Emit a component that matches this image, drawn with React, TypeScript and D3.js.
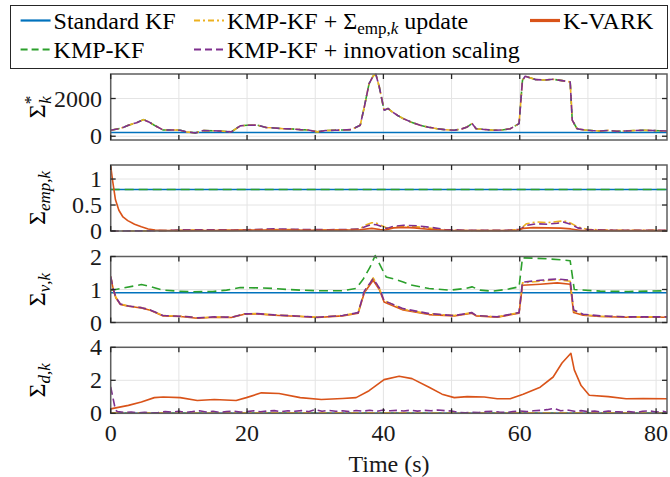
import * as d3 from "d3";

// time axis
const tMax = 81.6;
const xTicks = [0, 10, 20, 30, 40, 50, 60, 70, 80];

// panel 1: Sigma*_k (KMP-KF variants share the curve)
const starStd: [number, number][] = [[0, 200], [tMax, 200]];
const starShared: [number, number][] = [
  [0, 320], [1.5, 420], [2.6, 580], [3.8, 720], [4.8, 880], [5.6, 760], [6.4, 580], [7.7, 330],
  [9, 330], [10.2, 320], [11.1, 230], [12.4, 175], [13.6, 300], [15, 290], [16.5, 265], [17.7, 230],
  [19, 550], [20, 580], [21.5, 590], [22.8, 460], [24, 440], [25.3, 400], [26.5, 390], [27.8, 350],
  [29, 330], [30.3, 230], [31.5, 300], [32.8, 320], [34, 330], [35.3, 350], [36.6, 580], [37.2, 1550],
  [37.9, 2790], [38.5, 3200], [38.9, 3280], [39.4, 2610], [40.1, 1380], [40.7, 1465], [41.3, 1290],
  [42.1, 1100], [42.9, 935], [44, 760], [45.4, 580], [46.6, 480], [47.9, 400], [49, 350], [50.4, 318],
  [51.5, 390], [52.3, 494], [53, 670], [53.6, 400], [54.8, 360], [56.1, 318], [57.4, 330], [58.6, 400],
  [59.9, 670], [60.4, 2965], [60.8, 3180], [61.5, 3100], [62.4, 3000], [63.6, 2980], [64.9, 3020],
  [66.2, 2950], [67.4, 2880], [67.7, 850], [68.4, 400], [69.5, 330], [70.5, 300], [71.8, 280],
  [73, 310], [74.2, 260], [75.5, 280], [76.8, 300], [78.1, 318], [79.5, 300], [80.5, 290], [81.6, 280],
];

// panel 2: Sigma_emp,k
const empStd: [number, number][] = [[0, 0.8], [tMax, 0.8]];
const empKvark: [number, number][] = [
  [0, 1.25], [0.3, 0.95], [0.7, 0.6], [1.2, 0.4], [1.8, 0.27], [2.5, 0.2], [3.5, 0.13], [4.5, 0.08],
  [5.5, 0.04], [6.5, 0.02], [8, 0.01], [10, 0.008], [14, 0.01], [18, 0.012], [22, 0.02], [26, 0.018],
  [30, 0.015], [34, 0.02], [36.5, 0.025], [38.3, 0.05], [39.5, 0.03], [40.3, 0.02], [41.5, 0.06],
  [43, 0.07], [44.5, 0.06], [47, 0.03], [50, 0.01], [55, 0.008], [59.5, 0.01], [60.5, 0.05],
  [62, 0.065], [64, 0.06], [66, 0.055], [67.5, 0.04], [69, 0.01], [75, 0.008], [81.6, 0.008],
];
const empYellow: [number, number][] = [
  [0, 0], [5, 0.002], [8, 0.008], [10, 0.015], [14, 0.02], [18, 0.015], [20, 0.02], [24, 0.03],
  [28, 0.025], [32, 0.02], [35, 0.025], [36.5, 0.04], [37.5, 0.12], [38.3, 0.16], [39, 0.15],
  [39.8, 0.1], [40.5, 0.06], [41.5, 0.07], [43, 0.085], [45, 0.08], [47, 0.05], [49, 0.02], [52, 0.01],
  [58, 0.01], [60, 0.03], [61, 0.14], [62.5, 0.175], [64, 0.16], [65.5, 0.18], [66.5, 0.195],
  [67.5, 0.15], [68.5, 0.08], [70, 0.03], [74, 0.015], [81.6, 0.01],
];
const empPurple: [number, number][] = [
  [0, 0], [5, 0.003], [8, 0.01], [10, 0.02], [14, 0.025], [18, 0.02], [20, 0.025], [24, 0.04],
  [28, 0.03], [32, 0.025], [35, 0.03], [36.5, 0.04], [37.5, 0.09], [38.3, 0.13], [39, 0.12],
  [39.8, 0.08], [40.5, 0.05], [41.5, 0.09], [43, 0.11], [45, 0.1], [47, 0.07], [49, 0.03], [52, 0.015],
  [58, 0.012], [60, 0.03], [61, 0.11], [62.5, 0.14], [64, 0.13], [65.5, 0.15], [66.5, 0.17],
  [67.5, 0.13], [68.5, 0.06], [70, 0.025], [74, 0.015], [81.6, 0.015],
];

// panel 3: Sigma_nu,k
const nuStd: [number, number][] = [[0, 0.9], [tMax, 0.9]];
const nuGreen: [number, number][] = [
  [0, 0.97], [2, 1.05], [4.5, 1.15], [6, 1.08], [7.7, 0.98], [10, 0.95], [12, 0.93], [15, 0.94],
  [17, 0.98], [19, 1.06], [21.5, 1.05], [24, 1.03], [26, 1.0], [27.8, 0.98], [31, 0.96], [34, 0.96],
  [36, 1.03], [37, 1.3], [38, 1.66], [38.8, 2.03], [39.7, 1.66], [40.4, 1.38], [41.6, 1.32],
  [43, 1.22], [44, 1.14], [46.7, 1.03], [49.8, 0.98], [52, 1.03], [53, 1.08], [54.2, 0.98], [56, 0.95],
  [58, 1.0], [59.9, 1.08], [60.4, 1.96], [62, 1.95], [64, 1.93], [66, 1.9], [67.4, 1.87], [68, 1.0],
  [71.8, 0.95], [76, 0.94], [81.6, 0.96],
];
const nuYellow: [number, number][] = [
  [0, 1.4], [0.4, 1.0], [0.75, 0.77], [1.4, 0.56], [2.6, 0.5], [4.5, 0.45], [5.8, 0.38], [7.7, 0.21],
  [10.2, 0.19], [11.5, 0.17], [12.7, 0.14], [15.2, 0.17], [17.7, 0.16], [19.6, 0.26], [21.5, 0.27],
  [24, 0.23], [27.8, 0.19], [30.3, 0.16], [34, 0.21], [36.3, 0.3], [37.2, 0.93], [38.5, 1.35],
  [39.4, 1.03], [40.1, 0.66], [40.7, 0.61], [42.9, 0.4], [46.7, 0.26], [50.4, 0.21], [53, 0.3],
  [53.6, 0.21], [56.7, 0.17], [59.9, 0.3], [60.4, 1.2], [63, 1.25], [65.5, 1.3], [67.4, 1.25],
  [67.9, 0.35], [69.3, 0.24], [71.8, 0.19], [75.6, 0.17], [81.6, 0.17],
];
const nuPurple: [number, number][] = [
  [0, 1.4], [0.4, 1.0], [0.75, 0.77], [1.4, 0.56], [2.6, 0.5], [4.5, 0.45], [5.8, 0.38], [7.7, 0.21],
  [10.2, 0.19], [11.5, 0.17], [12.7, 0.14], [15.2, 0.17], [17.7, 0.16], [19.6, 0.26], [21.5, 0.27],
  [24, 0.23], [27.8, 0.19], [30.3, 0.16], [34, 0.21], [36.3, 0.3], [37.2, 0.95], [38.5, 1.33],
  [39.4, 1.05], [40.1, 0.66], [40.7, 0.61], [42.9, 0.42], [46.7, 0.27], [50.4, 0.21], [53, 0.3],
  [53.6, 0.21], [56.7, 0.17], [59.9, 0.3], [60.4, 1.22], [63, 1.28], [65.5, 1.32], [67.4, 1.28],
  [67.9, 0.38], [69.3, 0.25], [71.8, 0.2], [75.6, 0.17], [81.6, 0.17],
];
const nuKvark: [number, number][] = [
  [0, 1.38], [0.4, 0.98], [0.75, 0.75], [1.4, 0.55], [2.6, 0.49], [4.5, 0.44], [5.8, 0.37], [7.7, 0.2],
  [10.2, 0.18], [12.7, 0.13], [15.2, 0.16], [17.7, 0.15], [19.6, 0.25], [21.5, 0.26], [24, 0.22],
  [27.8, 0.18], [30.3, 0.15], [34, 0.2], [36.3, 0.28], [37.2, 0.9], [38.5, 1.28], [39.4, 1.0],
  [40.1, 0.62], [40.7, 0.57], [42.9, 0.38], [46.7, 0.24], [50.4, 0.2], [53, 0.28], [53.6, 0.2],
  [56.7, 0.16], [59.9, 0.28], [60.4, 1.13], [63, 1.16], [65.5, 1.2], [67.4, 1.16], [67.9, 0.3],
  [69.3, 0.22], [71.8, 0.18], [75.6, 0.16], [81.6, 0.16],
];

// panel 4: Sigma_d,k
const dZero: [number, number][] = [[0, 0], [tMax, 0]];
const dYellow: [number, number][] = [[0, 0.03], [10, 0.02], [30, 0.03], [50, 0.02], [70, 0.03], [81.6, 0.02]];
const dKvark: [number, number][] = [
  [0, 0.27], [2.6, 0.48], [4.5, 0.69], [6.4, 0.95], [7.7, 0.99], [10.2, 0.95], [12.7, 0.78],
  [15.2, 0.84], [18.4, 0.78], [19.9, 0.95], [22.1, 1.24], [24.7, 1.2], [27.8, 0.95], [30.9, 0.84],
  [34, 0.9], [36, 0.95], [37.9, 1.37], [40.1, 2.04], [42.3, 2.25], [44.2, 2.1], [46.7, 1.58],
  [48.6, 1.16], [50.4, 0.95], [52.3, 1.01], [54.8, 0.99], [56.7, 0.88], [58.6, 0.88], [60.5, 1.16],
  [63, 1.58], [64.9, 2.2], [66.2, 3.05], [67.5, 3.64], [68, 2.63], [69, 1.68], [70.2, 1.09],
  [73, 1.01], [75.6, 0.88], [78.1, 0.9], [81.6, 0.88],
];
const dPurple: [number, number][] = [
  [0, 1.6], [0.3, 1.0], [0.7, 0.2], [1, 0.1], [2, 0.05], [3, 0.08], [4, 0.03], [5, 0.06], [6, 0.02],
  [7, 0.05], [8, 0.1], [9, 0.08], [10, 0.12], [11, 0.06], [12, 0.1], [13, 0.15], [14, 0.08],
  [15, 0.12], [16, 0.05], [17, 0.1], [18, 0.13], [19, 0.07], [20, 0.1], [21, 0.15], [22, 0.09],
  [23, 0.14], [24, 0.16], [25, 0.1], [26, 0.15], [27, 0.12], [28, 0.16], [29, 0.1], [30, 0.22],
  [31, 0.12], [32, 0.18], [33, 0.12], [34, 0.15], [35, 0.1], [36, 0.17], [37, 0.13], [38, 0.18],
  [39, 0.12], [40, 0.2], [41, 0.15], [42, 0.18], [43, 0.14], [44, 0.19], [45, 0.13], [46, 0.18],
  [47, 0.15], [48, 0.2], [49, 0.16], [50, 0.14], [51, 0.05], [52, 0.03], [53, 0.06], [54, 0.04],
  [55, 0.1], [56, 0.12], [57, 0.08], [58, 0.05], [59, 0.1], [60, 0.14], [61, 0.1], [62, 0.15],
  [63, 0.18], [64, 0.22], [65, 0.3], [66, 0.15], [67, 0.2], [68, 0.12], [69, 0.16], [70, 0.1],
  [71, 0.13], [72, 0.08], [73, 0.14], [74, 0.1], [75, 0.07], [76, 0.1], [77, 0.05], [78, 0.12],
  [79, 0.15], [80, 0.08], [81, 0.12], [81.6, 0.06],
];

const COLORS = {
  std: "#0072BD",
  kmp: "#2ca02c",
  emp: "#EDB120",
  inn: "#7E2F8E",
  kvark: "#D95319",
};
const DASH: Record<string, string | undefined> = {
  std: undefined,
  kmp: "9,5",
  emp: "8,3,2,3",
  inn: "8,4",
  kvark: undefined,
};

const FONT = "Liberation Serif";

const x = d3.scaleLinear().domain([0, tMax]).range([110.7, 667]);

type Panel = {
  top: number;
  domain: [number, number];
  ticks: number[];
  series: { key: string; data: [number, number][] }[];
};

const H = 66;
const panels: Panel[] = [
  {
    top: 74, domain: [-200, 3300], ticks: [0, 2000],
    series: [
      { key: "std", data: starStd },
      { key: "kmp", data: starShared },
      { key: "emp", data: starShared },
      { key: "inn", data: starShared },
    ],
  },
  {
    top: 165, domain: [0, 1.27], ticks: [0, 0.5, 1],
    series: [
      { key: "std", data: empStd },
      { key: "kmp", data: empStd },
      { key: "emp", data: empYellow },
      { key: "inn", data: empPurple },
      { key: "kvark", data: empKvark },
    ],
  },
  {
    top: 256.5, domain: [0, 2], ticks: [0, 1, 2],
    series: [
      { key: "std", data: nuStd },
      { key: "kmp", data: nuGreen },
      { key: "kvark", data: nuKvark },
      { key: "emp", data: nuYellow },
      { key: "inn", data: nuPurple },
    ],
  },
  {
    top: 347.3, domain: [0, 4], ticks: [0, 2, 4],
    series: [
      { key: "std", data: dZero },
      { key: "kmp", data: dZero },
      { key: "emp", data: dYellow },
      { key: "inn", data: dPurple },
      { key: "kvark", data: dKvark },
    ],
  },
];

function YLabel({ i, cy }: { i: number; cy: number }) {
  const sub = { fontSize: 17, fontStyle: "italic" as const };
  return (
    <text transform={`translate(45,${cy}) rotate(-90)`} textAnchor="middle" fontSize={24} fontFamily={FONT}>
      {i === 0 && (
        <>
          <tspan>Σ</tspan>
          <tspan dy={-9} fontSize={17}>*</tspan>
          <tspan dx={-8} dy={15} {...sub}>k</tspan>
        </>
      )}
      {i === 1 && (
        <>
          <tspan>Σ</tspan>
          <tspan dy={5} {...sub}>emp,k</tspan>
        </>
      )}
      {i === 2 && (
        <>
          <tspan>Σ</tspan>
          <tspan dy={5} {...sub}>ν,k</tspan>
        </>
      )}
      {i === 3 && (
        <>
          <tspan>Σ</tspan>
          <tspan dy={5} {...sub}>d,k</tspan>
        </>
      )}
    </text>
  );
}

function PanelView({ p, i }: { p: Panel; i: number }) {
  const y = d3.scaleLinear().domain(p.domain).range([p.top + H, p.top]);
  const line = d3.line<[number, number]>().x(d => x(d[0])).y(d => y(d[1]));
  const [x0, x1] = x.range();
  const bottom = p.top + H;
  const last = i === panels.length - 1;
  return (
    <g>
      <rect x={x0} y={p.top} width={x1 - x0} height={H} fill="#fff" />
      {xTicks.map(t => (
        <line key={"gx" + t} x1={x(t)} x2={x(t)} y1={p.top} y2={bottom} stroke="#e4e4e4" strokeWidth={1} />
      ))}
      {p.ticks.map(v => (
        <line key={"gy" + v} x1={x0} x2={x1} y1={y(v)} y2={y(v)} stroke="#e4e4e4" strokeWidth={1} />
      ))}
      {p.series.map((s, k) => (
        <path
          key={k}
          d={line(s.data) ?? ""}
          fill="none"
          stroke={COLORS[s.key as keyof typeof COLORS]}
          strokeWidth={1.6}
          strokeDasharray={DASH[s.key]}
          strokeLinejoin="round"
        />
      ))}
      <rect x={x0} y={p.top} width={x1 - x0} height={H} fill="none" stroke="#5e5e5e" strokeWidth={1.5} />
      {xTicks.map(t => (
        <g key={"tx" + t}>
          <line x1={x(t)} x2={x(t)} y1={bottom} y2={bottom - 5} stroke="#262626" strokeWidth={1.3} />
          <line x1={x(t)} x2={x(t)} y1={p.top} y2={p.top + 5} stroke="#262626" strokeWidth={1.3} />
        </g>
      ))}
      {p.ticks.map(v => (
        <g key={"ty" + v}>
          <line x1={x0} x2={x0 + 5} y1={y(v)} y2={y(v)} stroke="#262626" strokeWidth={1.3} />
          <line x1={x1} x2={x1 - 5} y1={y(v)} y2={y(v)} stroke="#262626" strokeWidth={1.3} />
          <text x={102} y={y(v)} dy="0.34em" textAnchor="end" fontSize={24} fontFamily={FONT} fill="#1a1a1a">
            {String(v)}
          </text>
        </g>
      ))}
      {last &&
        xTicks.filter(t => t % 20 === 0).map(t => (
          <text key={"lx" + t} x={x(t)} y={441} textAnchor="middle" fontSize={24} fontFamily={FONT} fill="#1a1a1a">
            {t}
          </text>
        ))}
      <YLabel i={i} cy={p.top + H / 2} />
    </g>
  );
}

const legendItems = [
  { key: "std", col: 0, row: 0, w: 2.2 },
  { key: "kmp", col: 0, row: 1, w: 2.2 },
  { key: "emp", col: 1, row: 0, w: 2.2 },
  { key: "inn", col: 1, row: 1, w: 2.2 },
  { key: "kvark", col: 2, row: 0, w: 3.2 },
];
const legendCols = [20.6, 194, 530];
const legendRows = [20.5, 49.5];

function LegendLabel({ k }: { k: string }) {
  if (k === "std") return <>Standard KF</>;
  if (k === "kmp") return <>KMP-KF</>;
  if (k === "inn") return <>KMP-KF + innovation scaling</>;
  if (k === "kvark") return <>K-VARK</>;
  return (
    <>
      KMP-KF + Σ
      <tspan dy={5} fontSize={17}>emp,</tspan>
      <tspan fontSize={17} fontStyle="italic">k</tspan>
      <tspan dy={-5}> update</tspan>
    </>
  );
}

export default function App() {
  return (
    <svg width={670} height={477} style={{ display: "block", position: "absolute", left: 0, top: 0 }}>
      <rect width={670} height={477} fill="#fff" />
      <rect x={10.5} y={5.5} width={657} height={63} fill="#fff" stroke="#262626" strokeWidth={1} />
      {legendItems.map(it => {
        const lx = legendCols[it.col];
        const ly = legendRows[it.row];
        return (
          <g key={it.key}>
            <line
              x1={lx} x2={lx + 30} y1={ly} y2={ly}
              stroke={COLORS[it.key as keyof typeof COLORS]}
              strokeWidth={it.w}
              strokeDasharray={it.key === "emp" ? "6,3,2,3" : DASH[it.key] ? "7,4" : undefined}
            />
            <text x={lx + 33} y={ly + 8} fontSize={24} fontFamily={FONT} fill="#000">
              <LegendLabel k={it.key} />
            </text>
          </g>
        );
      })}
      {panels.map((p, i) => (
        <PanelView key={i} p={p} i={i} />
      ))}
      <text x={389} y={472} textAnchor="middle" fontSize={24} fontFamily={FONT} fill="#1a1a1a">
        Time (s)
      </text>
    </svg>
  );
}
